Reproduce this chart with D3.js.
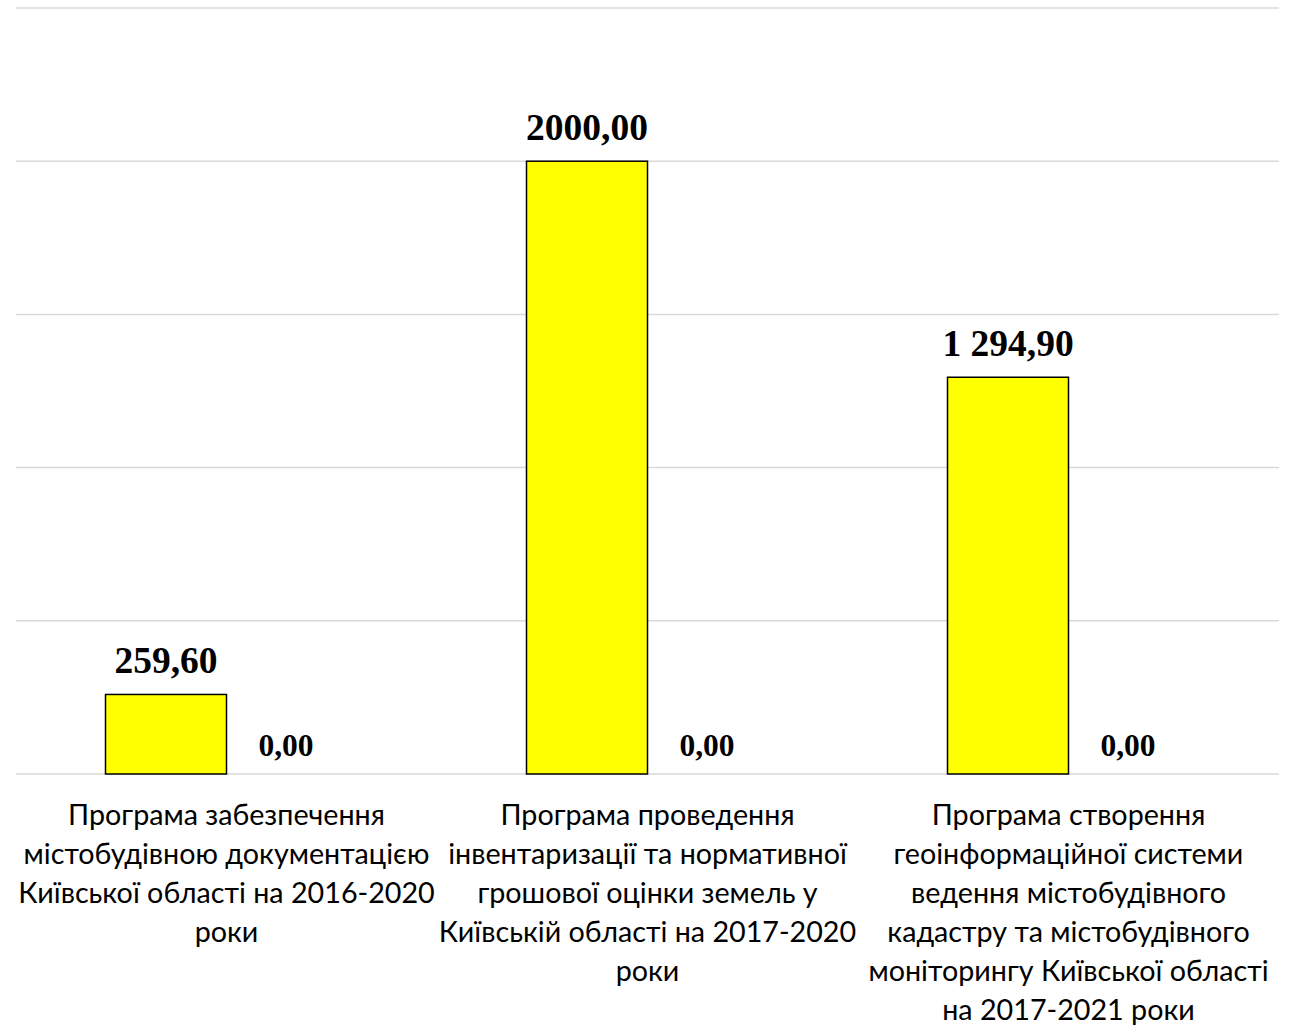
<!DOCTYPE html>
<html><head><meta charset="utf-8">
<script src="https://cdn.jsdelivr.net/npm/d3@7"></script>
<style>html,body{margin:0;padding:0;background:#fff;}</style>
</head><body>
<svg id="chart" width="1301" height="1027"></svg>
<script>
const categories = [
  ["Програма забезпечення", "містобудівною документацією", "Київської області на 2016-2020", "роки"],
  ["Програма проведення", "інвентаризації та нормативної", "грошової оцінки земель у", "Київській області на 2017-2020", "роки"],
  ["Програма створення", "геоінформаційної системи", "ведення містобудівного", "кадастру та містобудівного", "моніторингу Київської області", "на 2017-2021 роки"]
];
const series1 = [259.60, 2000.00, 1294.90];
const series2 = [0.00, 0.00, 0.00];
const labels1 = ["259,60", "2000,00", "1 294,90"];
const labels2 = ["0,00", "0,00", "0,00"];
const yTicks = [0, 500, 1000, 1500, 2000, 2500];

const svg = d3.select("#chart");
const mLeft = 16, mRight = 1279, mTop = 8, mBottom = 774;
const x = d3.scaleBand().domain(d3.range(categories.length)).range([mLeft, mRight]).paddingInner(0).paddingOuter(0);
const y = d3.scaleLinear().domain([0, 2500]).range([mBottom, mTop]);
const barW = 121;

svg.append("g").selectAll("line").data(yTicks).join("line")
  .attr("x1", mLeft).attr("x2", mRight)
  .attr("y1", d => y(d)).attr("y2", d => y(d))
  .attr("stroke", "#d9d9d9").attr("stroke-width", 1.5);

const groups = svg.append("g").selectAll("g").data(d3.range(categories.length)).join("g");
const center = i => x(i) + x.bandwidth() / 2;

groups.append("rect")
  .attr("x", i => center(i) - barW)
  .attr("y", i => y(series1[i]))
  .attr("width", barW)
  .attr("height", i => y(0) - y(series1[i]))
  .attr("fill", "#ffff00").attr("stroke", "#000").attr("stroke-width", 1.5);

groups.append("text")
  .attr("x", i => center(i) - barW / 2)
  .attr("y", i => y(series1[i]) - 21)
  .attr("text-anchor", "middle")
  .attr("font-family", "Liberation Serif, Times New Roman, serif")
  .attr("font-weight", "bold").attr("font-size", 37.5)
  .text(i => labels1[i]);

groups.append("text")
  .attr("x", i => center(i) + barW / 2 - 1)
  .attr("y", i => y(series2[i]) - 18)
  .attr("text-anchor", "middle")
  .attr("font-family", "Liberation Serif, Times New Roman, serif")
  .attr("font-weight", "bold").attr("font-size", 31.5)
  .text(i => labels2[i]);

groups.append("text")
  .attr("text-anchor", "middle")
  .attr("font-family", "Lato, Calibri, sans-serif")
  .attr("font-size", 28.7)
  .attr("fill", "#000")
  .selectAll("tspan").data(i => categories[i].map(t => ({t, i}))).join("tspan")
  .attr("x", d => center(d.i))
  .attr("y", (d, k) => 825 + k * 39)
  .text(d => d.t);
</script>
</body></html>
